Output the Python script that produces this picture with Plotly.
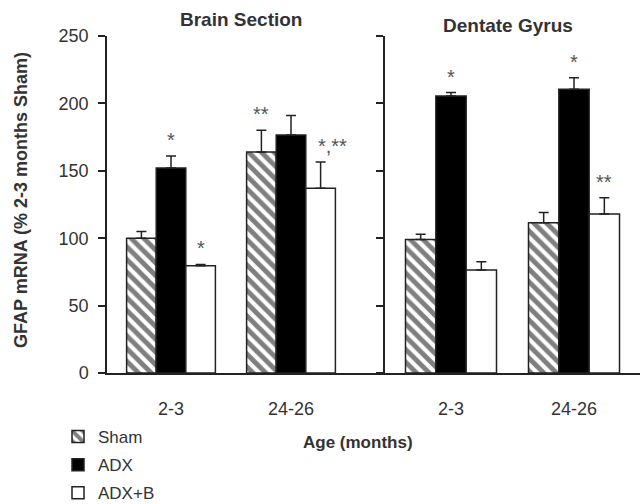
import plotly.graph_objects as go

ages = ["2-3", "24-26"]
groups = ["Sham", "ADX", "ADX+B"]

# Brain Section
brain_vals = {"Sham": [100, 164], "ADX": [152, 176.5], "ADX+B": [79.5, 137]}
brain_err = {"Sham": [5, 16], "ADX": [9, 14.5], "ADX+B": [1, 19.5]}
# Dentate Gyrus
dg_vals = {"Sham": [99, 111.5], "ADX": [205.5, 210.5], "ADX+B": [76.5, 118]}
dg_err = {"Sham": [4, 7.5], "ADX": [2.5, 8.5], "ADX+B": [6, 12]}

# significance marks: (panel, group, age index, text)
sig_marks = [
    ("brain", "ADX", 0, "*"),
    ("brain", "ADX+B", 0, "*"),
    ("brain", "Sham", 1, "**"),
    ("brain", "ADX+B", 1, "*,**"),
    ("dg", "ADX", 0, "*"),
    ("dg", "ADX", 1, "*"),
    ("dg", "ADX+B", 1, "**"),
]

yticks = [0, 50, 100, 150, 200, 250]

LINE = "#222222"
TXT = "#333333"
FONT = "Liberation Sans, Arial, sans-serif"

styles = {
    "Sham": dict(color="white", pattern=dict(shape="\\", fgcolor="black", bgcolor="white", size=9, solidity=0.55)),
    "ADX": dict(color="black"),
    "ADX+B": dict(color="white"),
}

fig = go.Figure()
for panel, vals, errs, xa, ya in [("brain", brain_vals, brain_err, "x", "y"),
                                   ("dg", dg_vals, dg_err, "x2", "y2")]:
    for g in groups:
        m = dict(styles[g])
        m["line"] = dict(color=LINE, width=1.5)
        fig.add_trace(go.Bar(
            x=ages, y=vals[g], name=g, marker=m, legendgroup=g,
            error_y=dict(type="data", array=errs[g], arrayminus=[0] * len(ages),
                         symmetric=False, color=LINE, thickness=1.5, width=5),
            xaxis=xa, yaxis=ya, showlegend=(panel == "brain"),
        ))

# layout geometry (pixels)
W, H = 642, 504
L, R, T, B = 107, 2, 36, 131
pw = W - L - R
split = (385 - L) / pw
left_spacing = 120
right_spacing = 123

offsets = {"Sham": -0.74 / 3, "ADX": 0.0, "ADX+B": 0.74 / 3}
annots = []
for panel, grp, i, txt in sig_marks:
    vals = brain_vals if panel == "brain" else dg_vals
    errs = brain_err if panel == "brain" else dg_err
    xoff = offsets[grp]
    xs = 0
    if txt == "*,**":
        xs = 12
    annots.append(dict(
        x=i + xoff, y=vals[grp][i] + errs[grp][i],
        xref="x" if panel == "brain" else "x2", yref="y" if panel == "brain" else "y2",
        text=txt, showarrow=False, xanchor="center", yanchor="bottom", yshift=3, xshift=xs,
        font=dict(size=20, color="#555555", family=FONT),
    ))

annots += [
    dict(x=(241 - L) / pw, y=1.0475, xref="paper", yref="paper", text="<b>Brain Section</b>",
         showarrow=False, font=dict(size=19, color=TXT, family=FONT), xanchor="center", yanchor="middle"),
    dict(x=(508 - L) / pw, y=1.0326, xref="paper", yref="paper", text="<b>Dentate Gyrus</b>",
         showarrow=False, font=dict(size=19, color=TXT, family=FONT), xanchor="center", yanchor="middle"),
    dict(x=(358 - L) / pw, y=(373 - 442) / 337, xref="paper", yref="paper", text="<b>Age (months)</b>",
         showarrow=False, font=dict(size=17, color=TXT, family=FONT), xanchor="center", yanchor="middle"),
    dict(x=(21 - L) / pw, y=(373 - 200) / 337, xref="paper", yref="paper", text="<b>GFAP mRNA (% 2-3 months Sham)</b>",
         showarrow=False, textangle=-90, font=dict(size=18, color=TXT, family=FONT),
         xanchor="center", yanchor="middle"),
]

axis_common = dict(showgrid=False, zeroline=False, showline=True, linecolor=LINE, linewidth=1.5)

fig.update_layout(
    width=W, height=H,
    margin=dict(l=L, r=R, t=T, b=B, autoexpand=False),
    paper_bgcolor="white", plot_bgcolor="white",
    barmode="group", bargap=0.26, bargroupgap=0,
    font=dict(family=FONT, color=TXT, size=17),
    xaxis=dict(domain=[0, split], type="category",
               range=[-(171 - L) / left_spacing, (385 - 171) / left_spacing],
               ticks="", ticklabelstandoff=19, tickfont=dict(size=18, color=TXT),
               anchor="y", automargin=False, **axis_common),
    xaxis2=dict(domain=[split, 1], type="category",
                range=[-(451 - 385) / right_spacing, (640 - 451) / right_spacing],
                ticks="", ticklabelstandoff=19, tickfont=dict(size=18, color=TXT),
                anchor="y2", automargin=False, **axis_common),
    yaxis=dict(range=[0, 250], tickvals=yticks, ticks="outside", ticklen=7, tickwidth=1.5,
               tickcolor=LINE, ticklabelstandoff=6, tickfont=dict(size=18, color=TXT),
               anchor="x", automargin=False, **axis_common),
    yaxis2=dict(range=[0, 250], tickvals=yticks, ticks="outside", ticklen=7, tickwidth=1.5,
                tickcolor=LINE, showticklabels=False, anchor="x2", automargin=False, **axis_common),
    legend=dict(x=(58 - L) / pw, y=(373 - 419) / 337, xanchor="left", yanchor="top",
                font=dict(size=17, color=TXT, family=FONT), bgcolor="rgba(0,0,0,0)",
                tracegroupgap=3, itemwidth=30),
    annotations=annots,
)

fig.write_html("out.html")
